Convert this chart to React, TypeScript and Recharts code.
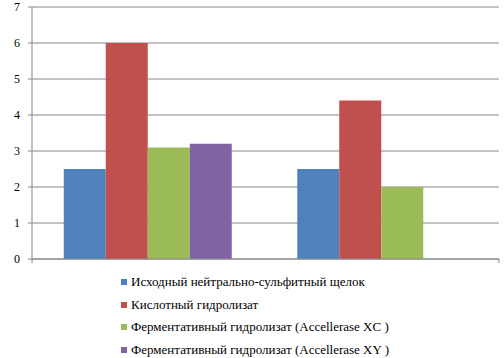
import { Bar, BarChart, CartesianGrid, XAxis, YAxis } from "recharts";

const GROUPS = ["Группа 1", "Группа 2"];
const SERIES_NAMES = [
  "Исходный нейтрально-сульфитный щелок",
  "Кислотный гидролизат",
  "Ферментативный гидролизат (Accellerase XC )",
  "Ферментативный гидролизат (Accellerase XY )",
];
const BASE_LIQUOR = [2.5, 2.5];
const ACID_HYDROLYSATE = [6.0, 4.4];
const ENZYME_XC = [3.1, 2.0];
const ENZYME_XY = [3.2, null];
const Y_TICKS = [0, 1, 2, 3, 4, 5, 6, 7];
const EDGE_TICKS = [0, 1, 2];

const COLORS = ["#4F81BD", "#C0504D", "#9BBB59", "#8064A2"];
const GRID = "#868686";
const FONT = "Times New Roman, Liberation Serif, DejaVu Serif, serif";

const KEYS = ["s0", "s1", "s2", "s3"];

export default function App(): JSX.Element {
  const data = GROUPS.map((name, i) => ({
    name,
    s0: BASE_LIQUOR[i],
    s1: ACID_HYDROLYSATE[i],
    s2: ENZYME_XC[i],
    s3: ENZYME_XY[i],
  }));

  return (
    <div style={{ position: "absolute", left: 0, top: 0, width: 504, height: 358, background: "#fff" }}>
      <BarChart
        width={504}
        height={358}
        data={data}
        margin={{ top: 7, right: 5, bottom: 89, left: 0 }}
        barCategoryGap="13.6%"
        barGap={0}
      >
        <CartesianGrid vertical={false} stroke={GRID} strokeDasharray="" />
        <XAxis dataKey="name" hide height={0} />
        <XAxis
          xAxisId="edges"
          type="number"
          domain={[0, 2]}
          ticks={EDGE_TICKS}
          height={10}
          stroke={GRID}
          tickSize={4}
          tickFormatter={() => ""}
        />
        <YAxis
          width={32}
          domain={[0, 7]}
          ticks={Y_TICKS}
          interval={0}
          stroke={GRID}
          tickSize={4}
          tickMargin={8}
          tick={{ fill: "#000", fontSize: 12, fontFamily: FONT }}
        />
        {KEYS.map((key, i) => (
          <Bar key={key} dataKey={key} name={SERIES_NAMES[i]} fill={COLORS[i]} isAnimationActive={false} />
        ))}
      </BarChart>

      <div style={{ position: "absolute", left: 121, top: 271, fontFamily: FONT, fontSize: 13, color: "#000" }}>
        {SERIES_NAMES.map((label, i) => (
          <div key={label} style={{ display: "flex", alignItems: "center", height: 22.5, whiteSpace: "nowrap" }}>
            <span style={{ display: "inline-block", width: 6, height: 6, background: COLORS[i], marginRight: 4 }} />
            <span>{label}</span>
          </div>
        ))}
      </div>
    </div>
  );
}
